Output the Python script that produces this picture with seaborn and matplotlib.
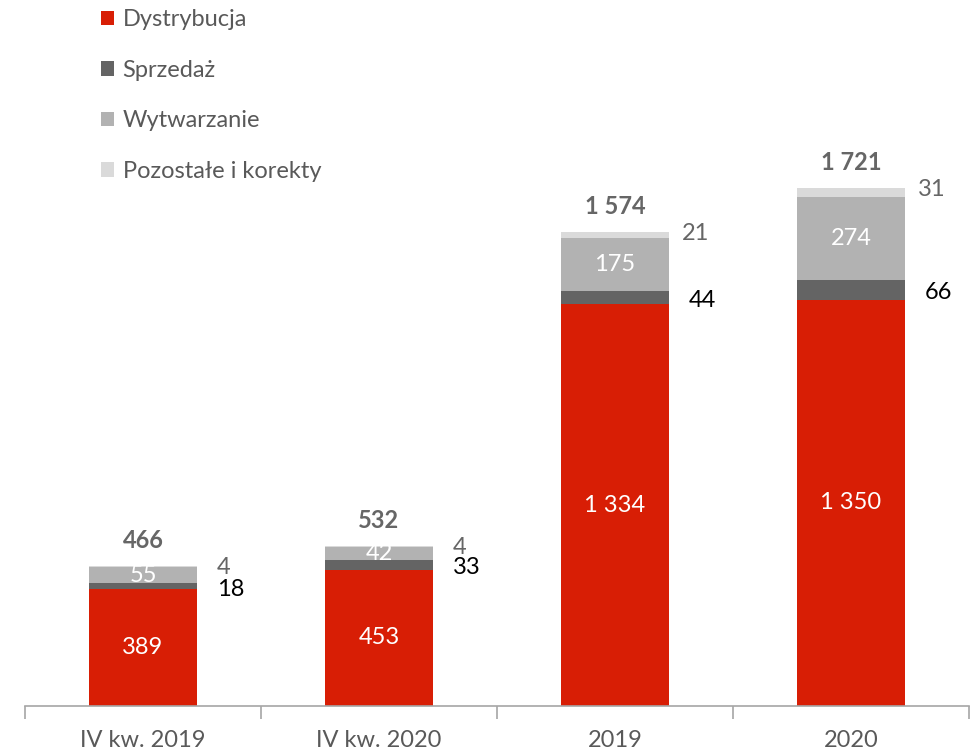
import pandas as pd
import seaborn as sns
import matplotlib.pyplot as plt
from matplotlib.patches import Patch
from matplotlib.ticker import FixedLocator

# --- Data ---
okresy = ["IV kw. 2019", "IV kw. 2020", "2019", "2020"]
dystrybucja = [389, 453, 1334, 1350]
sprzedaz = [18, 33, 44, 66]
wytwarzanie = [55, 42, 175, 274]
pozostale = [4, 4, 21, 31]
sumy = [466, 532, 1574, 1721]
segmenty = ["Dystrybucja", "Sprzedaż", "Wytwarzanie", "Pozostałe i korekty"]
kolory = ["#D81E05", "#646464", "#B2B2B2", "#DADADA"]

df = pd.DataFrame({
    "okres": okresy,
    "Dystrybucja": dystrybucja,
    "Sprzedaż": sprzedaz,
    "Wytwarzanie": wytwarzanie,
    "Pozostałe i korekty": pozostale,
})


def fmt(v):
    return f"{v:,}".replace(",", " ")


sns.set_style("white")
plt.rcParams["font.family"] = ["Lato", "DejaVu Sans"]
FS = 17

fig = plt.figure(figsize=(9.71, 7.51), dpi=100)
ax = fig.add_axes([25 / 971, 45 / 751, 944 / 971, 706 / 751])

# --- Stacked bars ---
bottom = [0] * len(okresy)
for seg, kol in zip(segmenty, kolory):
    sns.barplot(data=df, x="okres", y=seg, order=okresy, color=kol,
                saturation=1, width=0.457, bottom=bottom, ax=ax,
                edgecolor="none", linewidth=0)
    bottom = [b + v for b, v in zip(bottom, df[seg])]

ax.set_xlim(-0.5, 3.5)
ax.set_ylim(0, 2345)

# --- Labels ---
for i in range(len(okresy)):
    ax.text(i, dystrybucja[i] / 2, fmt(dystrybucja[i]), ha="center", va="center",
            color="white", fontsize=FS)
    y_w = dystrybucja[i] + sprzedaz[i] + wytwarzanie[i] / 2
    ax.text(i, y_w, fmt(wytwarzanie[i]), ha="center", va="center",
            color="white", fontsize=FS)
    # Sprzedaż to the right
    y_s = dystrybucja[i] + sprzedaz[i] / 2 - 10
    ax.text(i + 0.37, y_s, fmt(sprzedaz[i]), ha="center", va="center",
            color="black", fontsize=FS)
    # Pozostałe to the right
    ax.text(i + 0.34, sumy[i] - 5, fmt(pozostale[i]), ha="center", va="center",
            color="#666666", fontsize=FS)
    # totals
    ax.text(i, sumy[i] + 85, fmt(sumy[i]), ha="center", va="center",
            color="#666666", fontsize=FS, fontweight="bold")

# --- Axes styling ---
for s in ["top", "right", "left"]:
    ax.spines[s].set_visible(False)
ax.spines["bottom"].set_color("#A6A6A6")
ax.spines["bottom"].set_linewidth(1.2)
ax.set_yticks([])
ax.set_xlabel("")
ax.set_ylabel("")
ax.xaxis.set_minor_locator(FixedLocator([-0.5, 0.5, 1.5, 2.5, 3.5]))
ax.tick_params(axis="x", which="minor", bottom=True, length=9, width=1.2,
               color="#A6A6A6")
ax.tick_params(axis="x", which="major", length=0, pad=17, labelsize=FS,
               labelcolor="#595959")

# --- Legend ---
handles = [Patch(facecolor=k, edgecolor="none") for k in kolory]
fig.legend(handles, segmenty, loc="upper left", bbox_to_anchor=(80 / 971, 1.016),
           frameon=False, fontsize=FS, handlelength=0.55, handleheight=0.55,
           handletextpad=0.35, labelspacing=1.25, labelcolor="#595959")

plt.savefig("out.png", dpi=100)
